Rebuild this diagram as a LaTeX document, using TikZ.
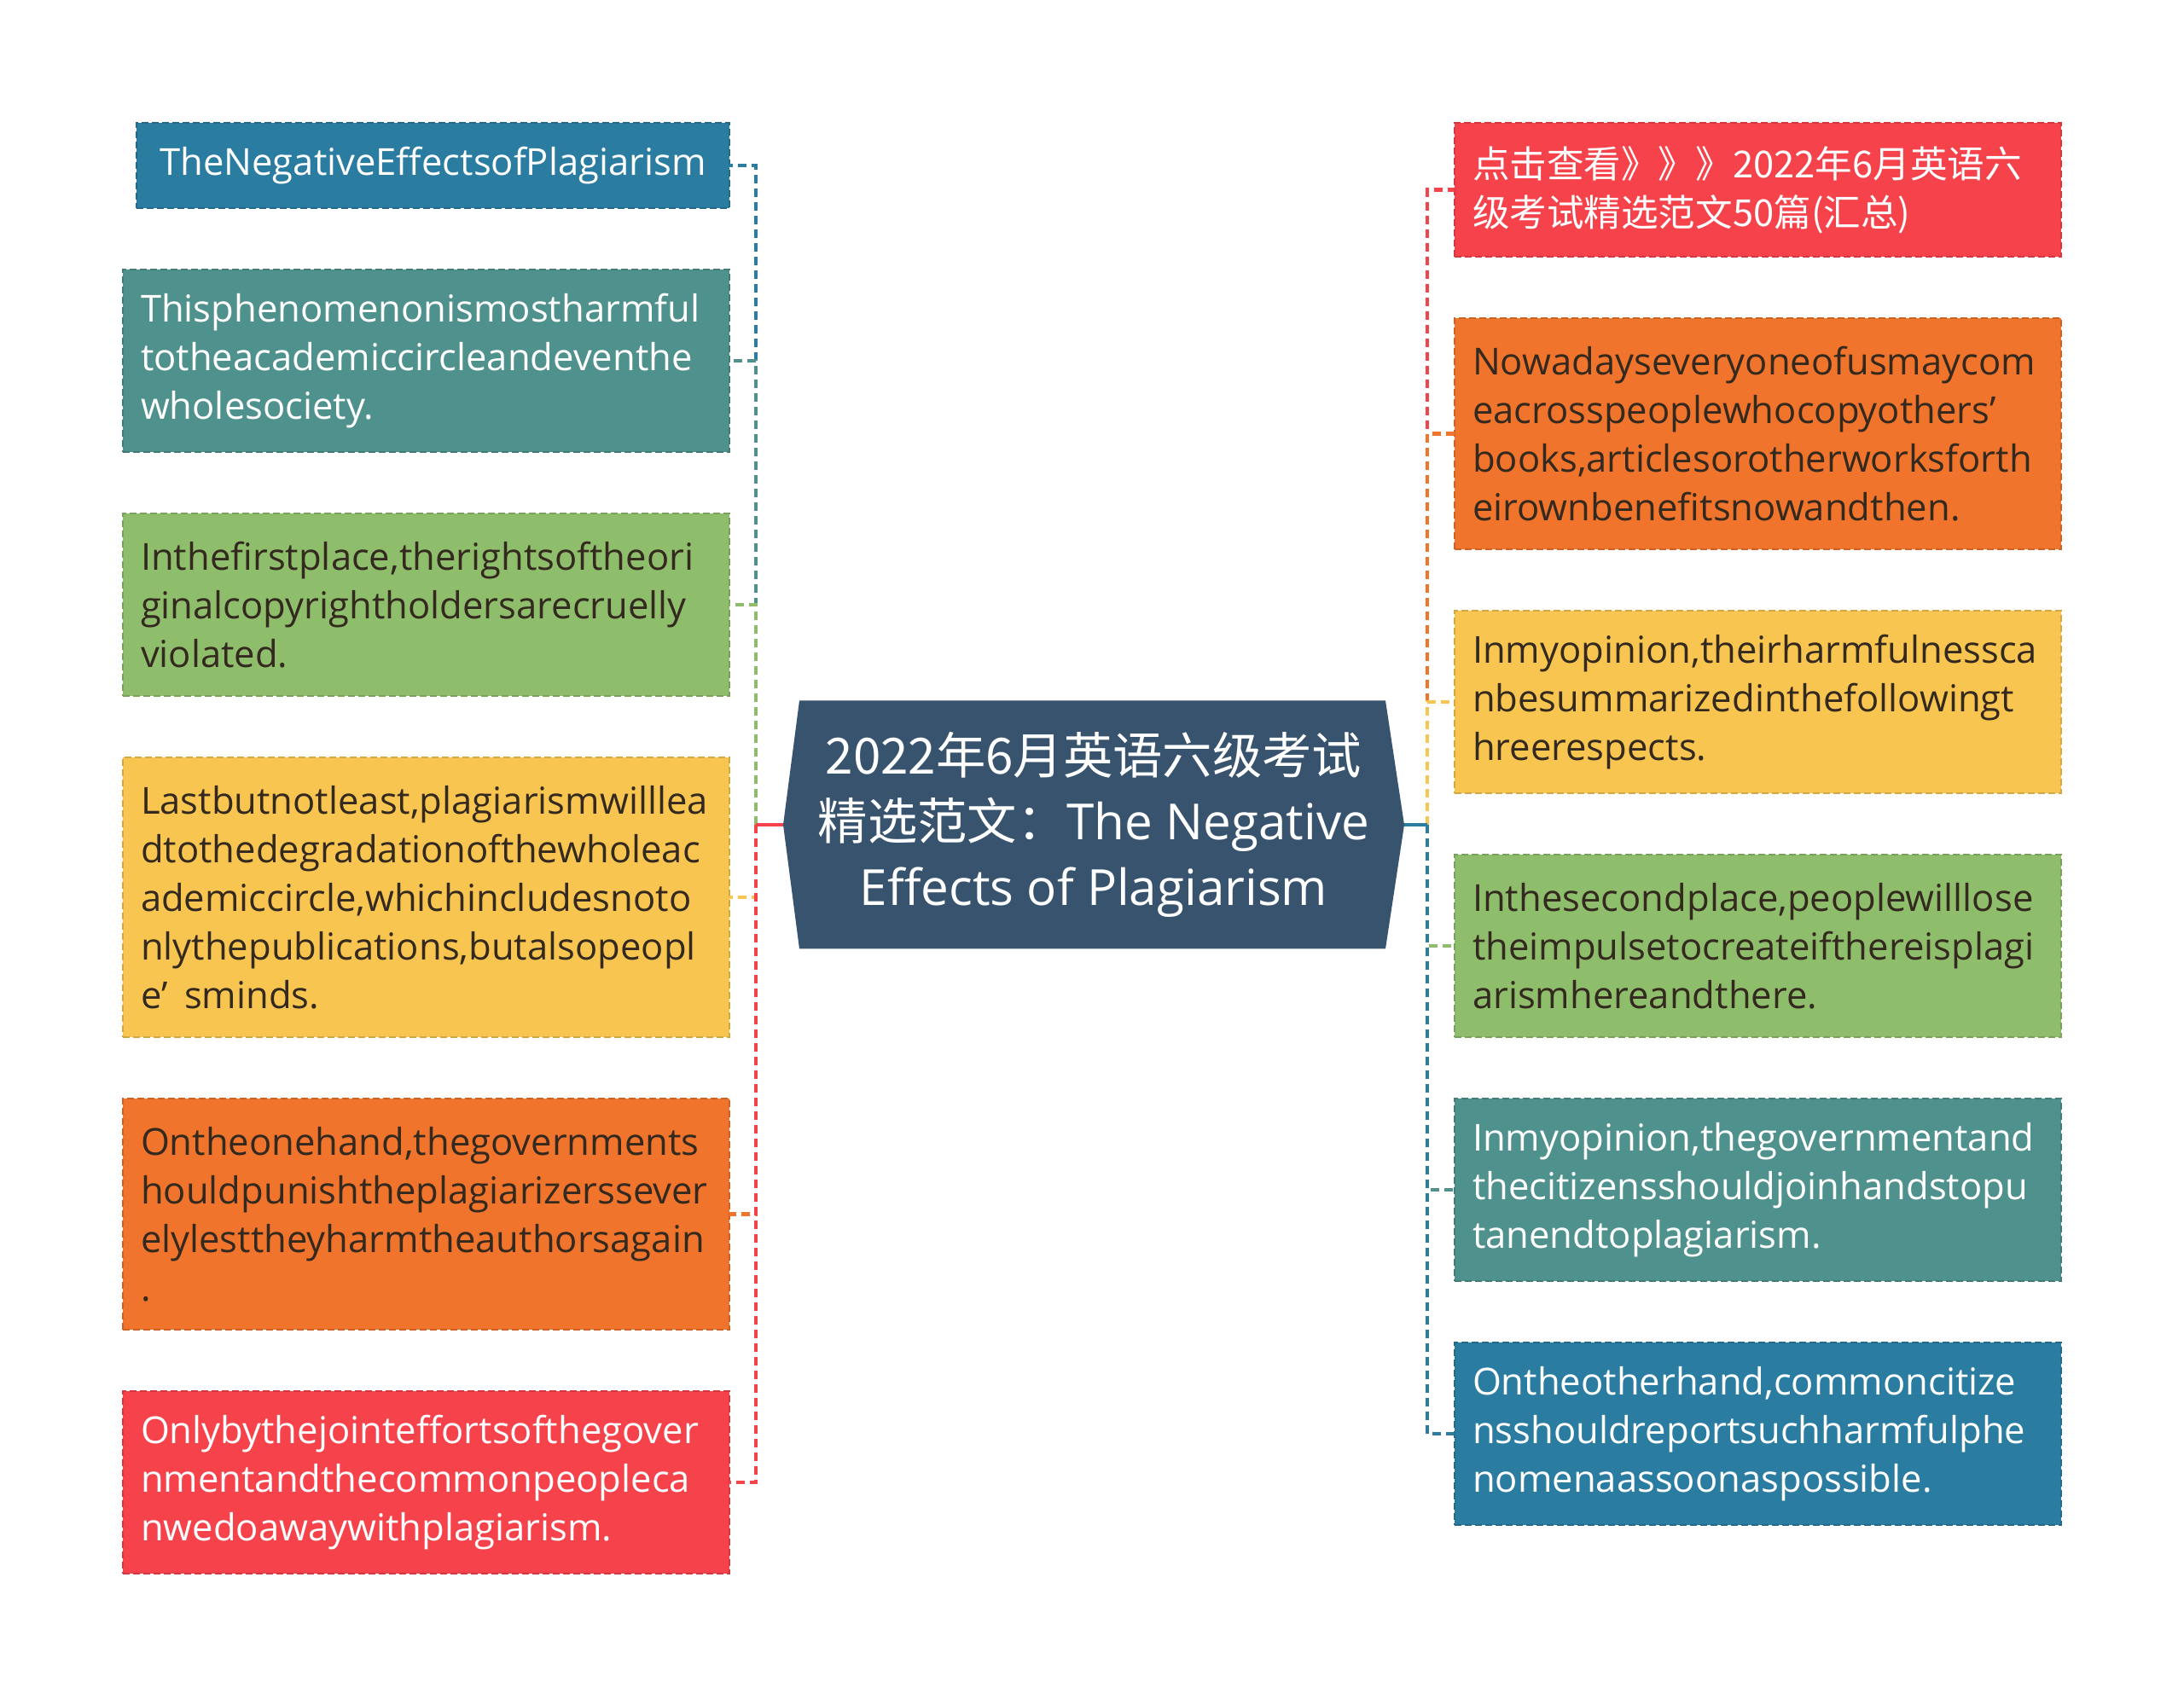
\documentclass[tikz,border=0pt]{standalone}
\usepackage{fontspec}
\setmainfont{Open Sans}
\newfontfamily\cjk{Noto Sans CJK SC}
\usetikzlibrary{positioning,backgrounds}
\hyphenpenalty=10000
\exhyphenpenalty=10000

\definecolor{cblue}{HTML}{2A7CA1}
\definecolor{cteal}{HTML}{4F918C}
\definecolor{cgreen}{HTML}{8EBE6B}
\definecolor{cyellow}{HTML}{F8C550}
\definecolor{corange}{HTML}{F0742B}
\definecolor{cred}{HTML}{F6424A}
\definecolor{croot}{HTML}{38536E}
\definecolor{ink}{HTML}{33291F}

\begin{document}
\begin{tikzpicture}[
    node distance=7.2mm,
    leaf/.style={fill=#1, draw=#1!85!black, dash pattern=on 0.8mm off 0.4mm,
                line width=0.5pt, outer sep=0pt, text width=6.69cm, inner xsep=2.1mm,
                inner ysep=0pt, align=left, font=\fontsize{12.4pt}{16.2pt}\selectfont},
    light/.style={text=white},
    dark/.style={text=ink},
    nlines/.style={minimum height=#1*5.7mm+4.3mm},
    link/.style={draw=#1, line width=0.45mm, dash pattern=on 1mm off 0.6mm},
    stem/.style={draw=#1, line width=0.45mm},
    hub/.style={minimum width=7.28cm, minimum height=2.91cm, outer sep=0pt, align=center,
                text=white, font=\fontsize{16.6pt}{21.9pt}\selectfont}
]
\useasboundingbox (0,0) rectangle (25.6,19.91);

\node[hub] (root) at (12.82,10.24)
  {{\cjk 2022年6月英语六级考试}\\{\cjk 精选范文：}The Negative\\Effects of Plagiarism};
\begin{scope}[on background layer]
  \fill[croot] ([xshift=1.9mm]root.north west) -- ([xshift=-2.2mm]root.north east) -- (root.east)
    -- ([xshift=-2.2mm]root.south east) -- ([xshift=1.9mm]root.south west) -- (root.west) -- cycle;
\end{scope}

\node[leaf=cblue, light, nlines=1, text width=6.53cm, align=center, anchor=north east]
  (l1) at (8.55,18.47) {TheNegativeEffectsofPlagiarism};
\node[leaf=cteal, light, nlines=3, below=of l1.south east, anchor=north east] (l2)
  {Thisphenomenonismostharmful\\totheacademiccircleandeventhe\\wholesociety.};
\node[leaf=cgreen, dark, nlines=3, below=of l2] (l3)
  {Inthefirstplace,therightsoftheori\\ginalcopyrightholdersarecruelly\\violated.};
\node[leaf=cyellow, dark, nlines=5, below=of l3] (l4)
  {Lastbutnotleast,plagiarismwilllea\\dtothedegradationofthewholeac\\ademiccircle,whichincludesnoto\\nlythepublications,butalsopeopl\\e’\hspace{0.45em}sminds.};
\node[leaf=corange, dark, nlines=4, below=of l4] (l5)
  {Ontheonehand,thegovernments\\houldpunishtheplagiarizerssever\\elylesttheyharmtheauthorsagain\\.};
\node[leaf=cred, light, nlines=3, below=of l5] (l6)
  {Onlybythejointeffortsofthegover\\nmentandthecommonpeopleca\\nwedoawaywithplagiarism.};

\node[leaf=cred, light, nlines=2, anchor=north west] (r1) at (17.05,18.47)
  {{\cjk 点击查看》》》2022年6月英语六}\\{\cjk 级考试精选范文50篇(汇总)}};
\node[leaf=corange, dark, nlines=4, below=of r1] (r2)
  {Nowadayseveryoneofusmaycom\\eacrosspeoplewhocopyothers’\\books,articlesorotherworksforth\\eirownbenefitsnowandthen.};
\node[leaf=cyellow, dark, nlines=3, below=of r2] (r3)
  {Inmyopinion,theirharmfulnessca\\nbesummarizedinthefollowingt\\hreerespects.};
\node[leaf=cgreen, dark, nlines=3, below=of r3] (r4)
  {Inthesecondplace,peoplewilllose\\theimpulsetocreateifthereisplagi\\arismhereandthere.};
\node[leaf=cteal, light, nlines=3, below=of r4] (r5)
  {Inmyopinion,thegovernmentand\\thecitizensshouldjoinhandstopu\\tanendtoplagiarism.};
\node[leaf=cblue, light, nlines=3, below=of r5] (r6)
  {Ontheotherhand,commoncitize\\nsshouldreportsuchharmfulphe\\nomenaassoonaspossible.};

\coordinate (jl) at ([xshift=-3.2mm]root.west);
\coordinate (jr) at ([xshift=2.7mm]root.east);

\draw[link=cblue] (jl) |- (l1.east);
\draw[link=cteal] (jl) |- (l2.east);
\draw[link=cgreen] (jl) |- (l3.east);
\draw[link=cyellow] (jl) |- (l4.east);
\draw[link=corange] (jl) |- (l5.east);
\draw[link=cred] (jl) |- (l6.east);
\draw[stem=cred] (root.west) -- (jl);

\draw[link=cred] (jr) |- (r1.west);
\draw[link=corange] (jr) |- (r2.west);
\draw[link=cyellow] (jr) |- (r3.west);
\draw[link=cgreen] (jr) |- (r4.west);
\draw[link=cteal] (jr) |- (r5.west);
\draw[link=cblue] (jr) |- (r6.west);
\draw[stem=cblue] (root.east) -- (jr);

\end{tikzpicture}
\end{document}
